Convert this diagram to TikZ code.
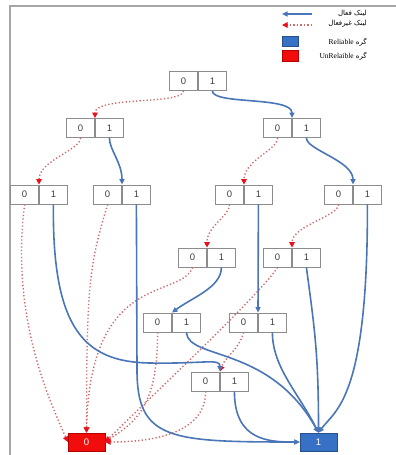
\documentclass[tikz,border=0pt]{standalone}
\usepackage{fontspec}
\setmainfont{Liberation Sans}
\newfontfamily\persianfont[Script=Arabic]{DejaVu Sans}
\newfontfamily\legendfont{Liberation Serif}
\TeXXeTstate=1
\usetikzlibrary{arrows.meta}
\definecolor{linkblue}{HTML}{4A76B8}
\definecolor{linkred}{HTML}{CF6A6A}
\definecolor{tipred}{HTML}{E8101A}
\definecolor{cellgray}{HTML}{8C8C8C}
\definecolor{nodeblue}{HTML}{3671C6}
\definecolor{nodered}{HTML}{F20D0D}

\begin{document}
\begin{tikzpicture}[x=1pt,y=-1pt,
  cell/.style={draw=cellgray, line width=0.8pt, minimum width=28pt, minimum height=19pt, inner sep=0pt, text=black!75, font=\fontsize{9.5}{10}\selectfont},
  term/.style={minimum width=37pt, minimum height=18pt, inner sep=0pt, text=white, font=\fontsize{9.5}{10}\selectfont},
  onelink/.style={draw=linkblue, line width=1.6pt, -{Triangle[length=5.5pt,width=5pt]}},
  zerolink/.style={draw=linkred, line width=1.4pt, dash pattern=on 1.3pt off 2.2pt, -{Triangle[length=5.5pt,width=5.5pt,color=tipred]}}]
  \useasboundingbox (0,0) rectangle (396,455);
  % Draw frame
  \draw[gray!70, line width=2pt] (10,455) -- (10,6) -- (396,6);
  % Draw split nodes
  \foreach \n/\x/\y in {root/198/81, l/95/128, r/292/128, a/39/194.5, b/122/194.5, c/244/194.5, d/353/194.5,
                        e/207/257.5, f/292/257.5, g/172/322.5, h/258/322.5, i/220/381.5} {
    \node[cell, anchor=east] (\n0) at (\x,\y) {0};
    \node[cell, anchor=west] (\n1) at (\x,\y) {1};
  }
  % Draw terminal nodes
  \node[term, fill=nodered, draw=red!70!black] (zero) at (86.5,442) {0};
  \node[term, fill=nodeblue, draw=nodeblue!70!black] (one) at (318.5,442) {1};
  % 0-links
  \draw[zerolink] (root0.south) .. controls +(0,14) and +(0,-22) .. (l0.north east);
  \draw[zerolink] (l0.south) .. controls +(0,12) and +(0,-24) .. (a0.north east);
  \draw[zerolink] (r0.south) .. controls +(0,12) and +(0,-24) .. (c0.north east);
  \draw[zerolink] (a0.south) .. controls +(-14,110) and +(-20,-45) .. (zero.west);
  \draw[zerolink] (b0.south) .. controls +(-18,60) and +(0,-150) .. (zero.north);
  \draw[zerolink] (c0.south) .. controls +(0,12) and +(0,-22) .. (e0.north east);
  \draw[zerolink] (d0.south) .. controls +(0,12) and +(0,-22) .. (f0.north east);
  \draw[zerolink] (e0.south) .. controls (180,300) and (90,270) .. (zero.north);
  \draw[zerolink] (f0.south) .. controls +(-20,30) and +(40,-40) .. (zero.east);
  \draw[zerolink] (g0.south) .. controls +(0,75) and +(30,-20) .. (zero.east);
  \draw[zerolink] (h0.south) .. controls +(-5,18) and +(5,-15) .. (i0.north east);
  \draw[zerolink] (i0.south) .. controls +(0,45) and +(40,0) .. (zero.east);
  % 1-links
  \draw[onelink] (root1.south) .. controls +(0,14) and +(0,-22) .. (r0.north east);
  \draw[onelink] (l1.south) .. controls +(0,12) and +(0,-22) .. (b0.north east);
  \draw[onelink] (r1.south) .. controls +(0,12) and +(0,-24) .. (d0.north east);
  \draw[onelink] (a1.south) .. controls (52,330) and (85,362) .. (150,363) .. controls (205,364) and (220,358) .. (i0.north east);
  \draw[onelink] (b1.south) -- (137,370) .. controls (137,440) and (170,442) .. (one.west);
  \draw[onelink] (c1.south) -- (h0.north east);
  \draw[onelink] (d1.south) .. controls (368,400) and (335,410) .. (one.north);
  \draw[onelink] (e1.south) .. controls +(0,20) and +(20,-15) .. (g0.north east);
  \draw[onelink] (f1.south) .. controls +(8,60) and +(0,-80) .. (one.north);
  \draw[onelink] (g1.south) .. controls (188,360) and (270,345) .. (one.north);
  \draw[onelink] (h1.south) .. controls +(0,35) and +(-20,-40) .. (one.north);
  \draw[onelink] (i1.south) .. controls +(0,50) and +(-30,0) .. (one.west);
  % Legend
  \draw[onelink] (312,14) -- (282,14);
  \draw[zerolink] (312,25) -- (282,25);
  \node[fill=nodeblue, draw=nodeblue!70!black, minimum width=16pt, minimum height=10pt, inner sep=0pt] (keyrel) at (290.5,41.5) {};
  \node[fill=nodered, draw=red!70!black, minimum width=16pt, minimum height=11pt, inner sep=0pt] (keyunrel) at (290.5,56) {};
  \node[anchor=east, inner sep=0pt, font=\persianfont\fontsize{7}{8}\selectfont] (keyon) at (367,13) {\beginR لینک فعال\endR};
  \node[anchor=east, inner sep=0pt, font=\persianfont\fontsize{7}{8}\selectfont] (keyoff) at (367,24) {\beginR لینک غیرفعال\endR};
  \node[anchor=east, inner sep=0pt, font=\persianfont\fontsize{7}{8}\selectfont] (keyreltext) at (367,42) {\beginR گره \beginL{\legendfont\fontsize{7.5}{8}\selectfont Reliable}\endL\endR};
  \node[anchor=east, inner sep=0pt, font=\persianfont\fontsize{7}{8}\selectfont] (keyunreltext) at (367,56) {\beginR گره \beginL{\legendfont\fontsize{7.5}{8}\selectfont UnRelaible}\endL\endR};
\end{tikzpicture}
\end{document}
